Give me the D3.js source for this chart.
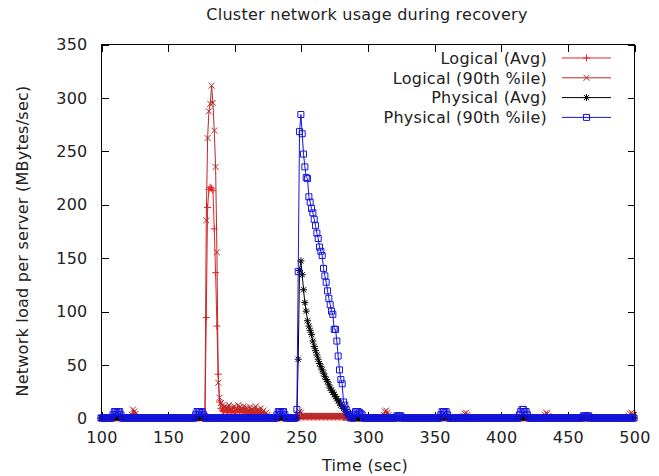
<!DOCTYPE html>
<html>
<head>
<meta charset="utf-8">
<script src="https://cdn.jsdelivr.net/npm/d3@7"></script>
<style>
    body { margin: 0; background: #fff; }
    svg { display: block; font-family: "DejaVu Sans", sans-serif; }
</style>
</head>
<body>
<svg id="chart" width="659" height="476"></svg>
<script>
// sample grid of the log, one reading per second
const timeSec = d3.range(100, 501);
const xTicks = [100, 150, 200, 250, 300, 350, 400, 450, 500];
const yTicks = [0, 50, 100, 150, 200, 250, 300, 350];

// [first second, readings...] — everything not listed reads as 0
const logicalAvg = [
    [124, [2, 4, 3]],
    [178, [1, 94, 197, 214, 216, 215, 213, 177, 136, 86, 41, 15,
        9, 7, 6, 8, 5, 7, 8, 6, 5, 7, 6, 5, 6, 8, 6, 5, 6, 7, 5, 6, 5, 4, 6, 5, 4, 5, 6, 4, 5, 3, 4, 3, 2]],
    [248, [1, 1, 1, 1, 1, 1, 1, 1, 1, 1, 1, 1, 1, 1, 1, 1, 1, 1, 1, 1, 1, 1, 1, 1, 1, 1, 1, 1, 1, 1, 1, 1, 1, 1, 1, 1, 1]],
    [314, [2, 3]],
    [374, [2]],
    [435, [2]],
    [498, [2]]
];

const logical90 = [
    [123, [3, 8, 6, 4]],
    [178, [2, 185, 262, 287, 294, 311, 295, 269, 235, 155, 33, 19,
        14, 12, 9, 11, 8, 10, 12, 9, 7, 10, 11, 8, 9, 12, 10, 7, 9, 11, 8, 10, 9, 7, 10, 8, 6, 9, 11, 7, 8, 6, 9, 5, 7, 4, 5, 3]],
    [247, [3, 4, 6, 5, 2, 2, 2, 2, 2, 2, 2, 2, 2, 2, 2, 2, 2, 2, 2, 2, 2, 2, 2, 2, 2, 2, 2, 2, 2, 2, 2, 2, 2, 2, 2, 2, 2]],
    [312, [3, 6, 7, 5, 3]],
    [372, [2, 4, 5, 3]],
    [433, [3, 5, 4, 2]],
    [496, [2, 4, 5, 4, 3]]
];

const physicalAvg = [
    [110, [1, 1, 1, 1, 1]],
    [172, [1, 1, 1, 1, 1]],
    [233, [1, 1, 1, 1, 1]],
    [248, [55, 138, 147, 134, 120, 108, 100, 91, 86, 82, 78, 72, 67, 63, 59, 55, 51, 48, 45, 42,
        39, 36, 34, 31, 28, 26, 24, 22, 20, 18, 16, 14, 12, 11, 9, 8, 6, 4, 2, 1]],
    [356, [1, 1, 1, 1, 1]],
    [416, [1, 1, 1, 1, 1]]
];

const physical90 = [
    [109, [3, 6, 6, 5, 6, 6, 3]],
    [171, [3, 6, 6, 6, 5, 6, 3]],
    [232, [3, 6, 6, 5, 6, 6, 3]],
    [247, [8, 137, 268, 284, 266, 247, 235, 225, 224, 207, 202, 196, 192, 186, 180, 173, 168, 160, 156, 152,
        140, 133, 127, 119, 112, 106, 100, 97, 83, 83, 72, 58, 45, 36, 32, 15, 12, 8, 5, 3, 1]],
    [290, [3, 6, 6, 6, 5, 4, 3]],
    [322, [2, 2, 2, 2]],
    [355, [3, 6, 6, 5, 6, 3]],
    [414, [3, 6, 8, 8, 6, 6, 3]],
    [462, [2, 2, 2, 2, 2]]
];

const seriesNames = ["Logical (Avg)", "Logical (90th %ile)", "Physical (Avg)", "Physical (90th %ile)"];
const seriesColors = ["#ee2020", "#b52a2a", "#000000", "#1414e0"];
const seriesMarkers = ["plus", "cross", "star", "square"];

function expand(bursts) {
    const m = new Map();
    bursts.forEach(([t0, vals]) => vals.forEach((v, i) => m.set(t0 + i, v)));
    return timeSec.map(t => ({ t, v: m.get(t) || 0 }));
}

const series = [logicalAvg, logical90, physicalAvg, physical90].map((b, i) => ({
    name: seriesNames[i], color: seriesColors[i], marker: seriesMarkers[i], data: expand(b)
}));

const markerPath = {
    plus: "M-3.5,0H3.5M0,-3.5V3.5",
    cross: "M-3,-3L3,3M-3,3L3,-3",
    star: "M-3.5,0H3.5M0,-3.5V3.5M-2.6,-2.6L2.6,2.6M-2.6,2.6L2.6,-2.6",
    square: "M-3,-3H3V3H-3Z"
};

const svg = d3.select("#chart");
const plotL = 101, plotR = 634, plotT = 44, plotB = 418;
const x = d3.scaleLinear().domain([100, 500]).range([plotL, plotR]);
const y = d3.scaleLinear().domain([0, 350]).range([plotB, plotT]);

// frame + inward ticks on every side
svg.append("rect")
    .attr("x", plotL + 0.5).attr("y", plotT + 0.5)
    .attr("width", plotR - plotL).attr("height", plotB - plotT)
    .attr("fill", "none").attr("stroke", "#000").attr("shape-rendering", "crispEdges");

function styleAxis(g) {
    g.select(".domain").remove();
    g.selectAll("line").attr("stroke", "#000").attr("shape-rendering", "crispEdges");
    g.selectAll("text").attr("font-size", 16).attr("fill", "#222")
        .attr("font-family", "DejaVu Sans, sans-serif").style("letter-spacing", "0.25px");
}

svg.append("g").attr("transform", `translate(0.5,${plotB + 0.5})`)
    .call(d3.axisBottom(x).tickValues(xTicks).tickSizeInner(-7).tickSizeOuter(0).tickPadding(13))
    .call(styleAxis);
svg.append("g").attr("transform", `translate(0.5,${plotT + 0.5})`)
    .call(d3.axisTop(x).tickValues(xTicks).tickSizeInner(-7).tickSizeOuter(0).tickFormat(""))
    .call(styleAxis);
svg.append("g").attr("transform", `translate(${plotL + 0.5},0.5)`)
    .call(d3.axisLeft(y).tickValues(yTicks).tickSizeInner(-7).tickSizeOuter(0).tickPadding(14))
    .call(styleAxis);
svg.append("g").attr("transform", `translate(${plotR + 0.5},0.5)`)
    .call(d3.axisRight(y).tickValues(yTicks).tickSizeInner(-7).tickSizeOuter(0).tickFormat(""))
    .call(styleAxis);

// data, drawn in plot order: line then points for each series
const line = d3.line().x(d => x(d.t)).y(d => y(d.v));
series.forEach(s => {
    const g = svg.append("g");
    g.append("path").datum(s.data)
        .attr("fill", "none").attr("stroke", s.color).attr("stroke-width", 1)
        .attr("d", line);
    g.selectAll("path.pt").data(s.data).enter().append("path")
        .attr("class", "pt")
        .attr("transform", d => `translate(${x(d.t)},${y(d.v)})`)
        .attr("d", markerPath[s.marker])
        .attr("fill", "none").attr("stroke", s.color).attr("stroke-width", 1);
});

// legend
const legend = svg.append("g");
series.forEach((s, i) => {
    const ly = 58 + i * 19.8;
    legend.append("text")
        .attr("x", 547).attr("y", ly).attr("dy", "0.36em")
        .attr("text-anchor", "end").attr("font-size", 16).attr("fill", "#222")
        .style("letter-spacing", "0.25px")
        .text(s.name);
    legend.append("line")
        .attr("x1", 562).attr("x2", 611).attr("y1", ly).attr("y2", ly)
        .attr("stroke", s.color).attr("stroke-width", 1);
    legend.append("path")
        .attr("transform", `translate(586.5,${ly})`)
        .attr("d", markerPath[s.marker])
        .attr("fill", "none").attr("stroke", s.color).attr("stroke-width", 1);
});

// titles
svg.append("text")
    .attr("x", 367).attr("y", 20).attr("text-anchor", "middle")
    .attr("font-size", 16).attr("fill", "#222").style("letter-spacing", "0.25px")
    .text("Cluster network usage during recovery");
svg.append("text")
    .attr("x", 365).attr("y", 471).attr("text-anchor", "middle")
    .attr("font-size", 16).attr("fill", "#222").style("letter-spacing", "0.25px")
    .text("Time (sec)");
svg.append("text")
    .attr("transform", "translate(28,241) rotate(-90)").attr("text-anchor", "middle")
    .attr("font-size", 16).attr("fill", "#222").style("letter-spacing", "0.25px")
    .text("Network load per server (MBytes/sec)");
</script>
</body>
</html>
